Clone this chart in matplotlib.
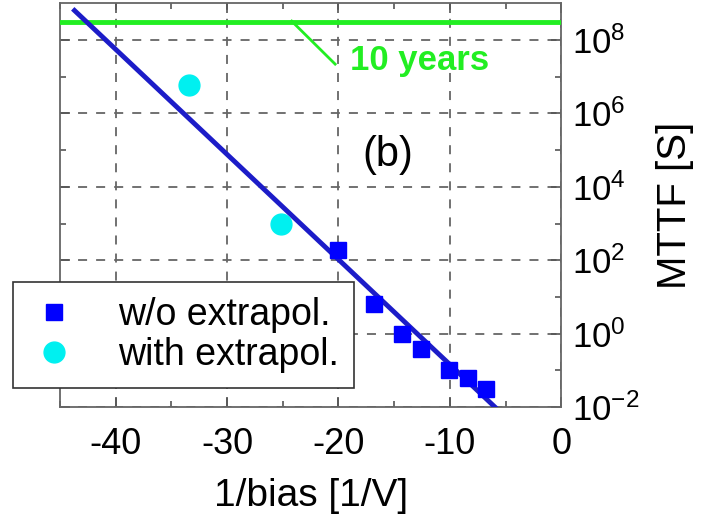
import matplotlib
matplotlib.use("Agg")
import matplotlib.pyplot as plt
import numpy as np

plt.rcParams['font.family'] = ['Liberation Sans', 'DejaVu Sans']
plt.rcParams['mathtext.fontset'] = 'custom'
plt.rcParams['mathtext.rm'] = 'Liberation Sans'
plt.rcParams['axes.unicode_minus'] = False

# measured points (1/bias, MTTF)
wo_x = [-20.0, -16.8, -14.3, -12.6, -10.05, -8.4, -6.75]
wo_y = [190, 6.3, 1.0, 0.39, 0.1, 0.063, 0.032]
with_x = [-33.4, -25.2]
with_y = [6.0e6, 950]
# fitted line endpoints
fit_x = [-43.7, -5.8]
fit_y = [6.3e8, 0.0091]
ten_years = 3.15e8

fig = plt.figure(figsize=(7.02, 5.22), dpi=100)
ax = fig.add_axes([0.0855, 0.22, 0.714, 0.774])

ax.set_yscale('log')

ax.axhline(ten_years, color='#22ee22', lw=3.5, zorder=3)
ax.plot(fit_x, fit_y, color='#1c1cc8', lw=3.5, zorder=4)
ax.plot(wo_x, wo_y, 's', color='#0000ff', ms=11.5, ls='none', label='w/o extrapol.', zorder=5)
ax.plot(with_x, with_y, 'o', color='#00f0f0', ms=15, ls='none', label='with extrapol.', zorder=5)

# "10 years" callout
ax.plot([-24.2, -20.3], [10**8.51, 10**7.34], color='#22ee22', lw=2, zorder=3)
ax.text(-19.0, 10**7.45, '10 years', color='#22ee22', fontsize=25, fontweight='bold',
        va='center', ha='left')
ax.text(-15.6, 10**4.86, '(b)', fontsize=30, ha='center', va='center')

ax.set_xlim(-45, 0)
ax.set_ylim(1e-2, 1e9)
ax.set_xticks([-40, -30, -20, -10, 0])
ax.set_xticks(np.arange(-45, 0, 5), minor=True)
ax.set_yticks([1e-2, 1e0, 1e2, 1e4, 1e6, 1e8])
ax.set_yticks([1e-1, 1e1, 1e3, 1e5, 1e7], minor=True)
ax.yaxis.set_minor_formatter(matplotlib.ticker.NullFormatter())

ax.yaxis.tick_right()
ax.yaxis.set_label_position('right')
ax.tick_params(which='both', direction='in', top=True, bottom=True, left=True, right=True,
               color='#555555', width=1.2)
ax.tick_params(which='major', length=7)
ax.tick_params(which='minor', length=4)
ax.tick_params(axis='x', which='major', labelsize=26, pad=14)
ax.tick_params(axis='y', which='major', labelsize=25, pad=8)

ax.grid(True, which='major', ls=(0, (5, 5)), color='#666666', lw=1.3)
for s in ax.spines.values():
    s.set_color('#666666')
    s.set_linewidth(1.3)

ax.set_xlabel('1/bias [1/V]', fontsize=28, labelpad=12)
ax.set_ylabel('MTTF [S]', fontsize=29, labelpad=12)

leg = ax.legend(loc='upper left', bbox_to_anchor=(0.018, 0.46), bbox_transform=fig.transFigure,
                borderaxespad=0, fontsize=27, fancybox=False, edgecolor='#333333', framealpha=1,
                handletextpad=1.0, borderpad=0.4, labelspacing=0.1, handlelength=1.4)
leg.get_frame().set_linewidth(1.2)

fig.savefig('out.png', dpi=100)
